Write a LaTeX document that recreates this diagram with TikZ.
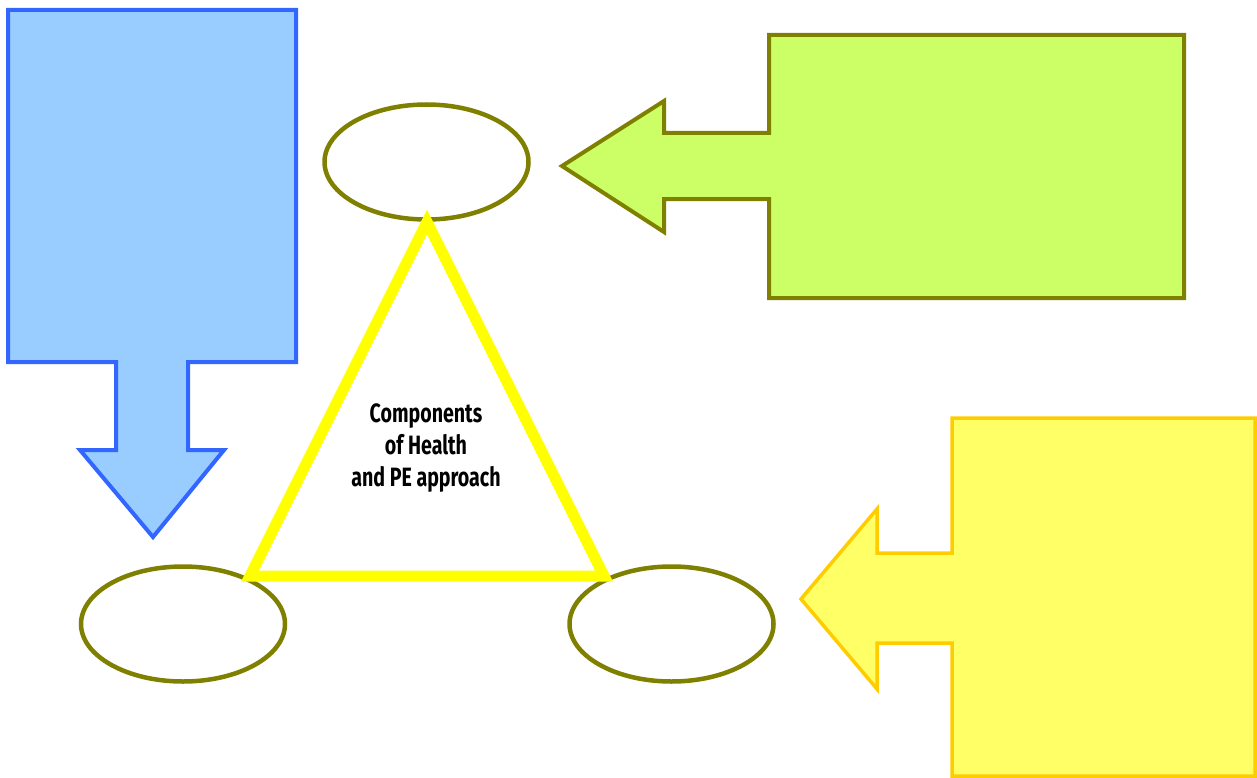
\documentclass[tikz,border=0pt]{standalone}
\usepackage{fontspec}
\newfontfamily\agencyfont[FakeStretch=0.74]{Fira Sans}
\usetikzlibrary{shapes.geometric,positioning}
\definecolor{oliveline}{HTML}{808000}
\definecolor{blueline}{HTML}{3366FF}
\definecolor{bluefill}{HTML}{99CCFF}
\definecolor{limefill}{HTML}{CCFF66}
\definecolor{goldline}{HTML}{FFCC00}
\definecolor{lemonfill}{HTML}{FFFF66}
\definecolor{triline}{HTML}{FFFF00}

\begin{document}
\begin{tikzpicture}[x=1pt,y=-1pt,
  comp/.style={ellipse, draw=oliveline, line width=4.5pt, fill=white,
    minimum width=204pt, minimum height=115pt, inner sep=0pt},
  callout/.style={line width=4pt, miter limit=10}]
  \useasboundingbox (0,0) rectangle (1257,778);
  % draw blue callout (down)
  \draw[callout, draw=blueline, fill=bluefill]
    (8,10) -- (296,10) -- (296,362) -- (188,362) -- (188,450) -- (224,450)
    -- (153,537) -- (80,450) -- (116,450) -- (116,362) -- (8,362) -- cycle;
  % draw green callout (left)
  \draw[callout, draw=oliveline, fill=limefill]
    (769,35) -- (1184,35) -- (1184,298) -- (769,298) -- (769,199) -- (664,199)
    -- (664,232) -- (562,166) -- (664,101) -- (664,133) -- (769,133) -- cycle;
  % draw yellow callout (left)
  \draw[callout, line width=3.5pt, draw=goldline, fill=lemonfill]
    (952,418) -- (1255,418) -- (1255,776) -- (952,776) -- (952,643) -- (877,643)
    -- (877,689) -- (801,599) -- (877,509) -- (877,553) -- (952,553) -- cycle;
  % draw ellipses
  \node[comp] (top)   at (426.5,162) {};
  \node[comp] (left)  at (183,624)   {};
  \node[comp] (right) at (671.5,624) {};
  % draw triangle
  \draw[line width=11pt, draw=triline, line join=miter]
    (427,222) -- (604,576) -- (250,576) -- cycle;
  % draw label
  \node[font=\agencyfont\bfseries\fontsize{26.5}{32}\selectfont, align=center]
    (title) at (426,448) {Components\\of Health\\and PE approach};
\end{tikzpicture}
\end{document}
